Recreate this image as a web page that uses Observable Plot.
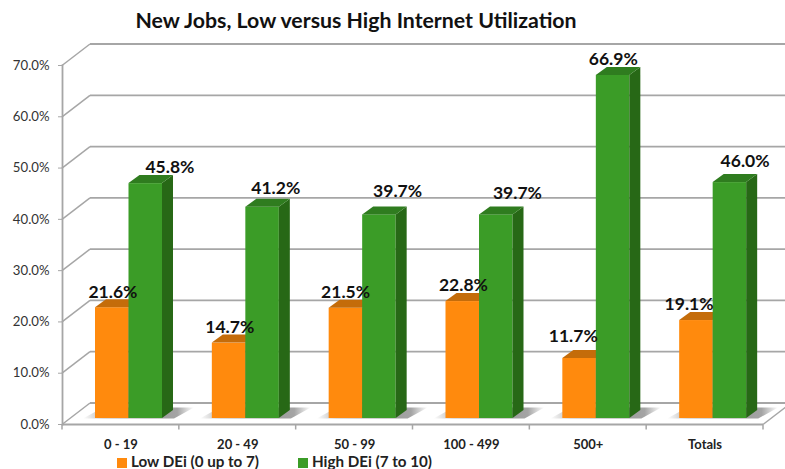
<!DOCTYPE html>
<html><head><meta charset="utf-8">
<script src="https://cdn.jsdelivr.net/npm/d3@7"></script>
<script src="https://cdn.jsdelivr.net/npm/@observablehq/plot@0.6"></script>
<style>
html,body{margin:0;padding:0;background:#fff;overflow:hidden;width:785px;height:469px}
#title{height:36px;width:712px;text-align:center;font:bold 21.3px/40px Lato,sans-serif;color:#111;white-space:nowrap}
#legend{height:17px;position:relative;font:bold 15.2px/16px Lato,sans-serif;color:#222}
#legend span{position:absolute;top:1px;white-space:nowrap}
#legend i{position:absolute;top:6px;width:9.5px;height:9.5px}
svg{display:block}
</style></head><body>
<div id="title">New Jobs, Low versus High Internet Utilization</div>
<div id="chart"></div>
<div id="legend"></div>
<script>
const categories = ["0 - 19","20 - 49","50 - 99","100 - 499","500+","Totals"];
const lowValues  = [21.6,14.7,21.5,22.8,11.7,19.1];
const highValues = [45.8,41.2,39.7,39.7,66.9,46.0];
const yTicks = [0,10,20,30,40,50,60,70];
const seriesNames = ["Low DEi (0 up to 7)","High DEi (7 to 10)"];

// label nudges from the bar's band centre, as in the reference's hand-placed labels
const lowNudgeX  = [-8,-8,-9,-8,-15,-16];
const lowNudgeY  = [-21,-22,-22,-22,-28,-22];
const highNudgeX = [49,38,43,46,25,40];
const highNudgeY = [-22,-25,-30,-28,-22,-27];

const lowTable  = categories.map((c,i)=>({c,v:lowValues[i]}));
const highTable = categories.map((c,i)=>({c,v:highValues[i]}));

const WALL_X = 28, WALL_Y = -21.5, BAR_DX = 8, BAR_DY = -6, DEPTH_X = 11, DEPTH_Y = -8;
const GRID = "#a6a6a6", fmt = v => v.toFixed(1)+"%";
const NS = "http://www.w3.org/2000/svg";
function add(g, tag, attrs){
  const e = document.createElementNS(NS, tag);
  for (const k in attrs) e.setAttribute(k, attrs[k]);
  g.appendChild(e); return e;
}
// extrudes every bar: side and top faces from the rect Plot computed
function extrude(sideColor, topColor){
  return (index, scales, values, dims, ctx, next) => {
    const g = next(index, scales, values, dims, ctx);
    for (const r of [...g.querySelectorAll("rect")]) {
      const x=+r.getAttribute("x"), y=+r.getAttribute("y"), w=+r.getAttribute("width"), h=+r.getAttribute("height");
      add(g,"polygon",{fill:sideColor,points:`${x+w},${y} ${x+w+DEPTH_X},${y+DEPTH_Y} ${x+w+DEPTH_X},${y+h+DEPTH_Y} ${x+w},${y+h}`});
      add(g,"polygon",{fill:topColor,points:`${x},${y} ${x+w},${y} ${x+w+DEPTH_X},${y+DEPTH_Y} ${x+DEPTH_X},${y+DEPTH_Y}`});
    }
    return g;
  };
}
function label(table, nx, ny){
  return table.map((d,i)=>Plot.text([d],{x:"c",y:"v",text:e=>fmt(e.v),dx:nx[i],dy:ny[i],
    fontFamily:"Lato, sans-serif",fontWeight:700,fontSize:17.5,fill:"#111"}));
}
const svg = Plot.plot({
  width:785, height:416,
  marginTop:29, marginBottom:28, marginLeft:62, marginRight:22,
  style:{background:"transparent",overflow:"hidden"},
  x:{type:"band",domain:categories,padding:0,round:false},
  y:{domain:[0,70],label:null},
  marks:[
    // back wall gridlines with their diagonals
    Plot.ruleY(yTicks,{stroke:GRID,strokeWidth:1.8,dx:WALL_X,dy:WALL_Y,
      render:(index,scales,values,dims,ctx,next)=>{
        const g=next(index,scales,values,dims,ctx);
        for(const i of index){
          const y=values.y[i]-WALL_Y;
          add(g,"line",{x1:dims.marginLeft-WALL_X,y1:y,x2:dims.marginLeft,y2:y+WALL_Y,stroke:GRID,"stroke-width":1.5});
        }
        return g;
      }}),
    // floor front edge, category ticks, right diagonal and floor shadows
    Plot.ruleY([0],{stroke:GRID,strokeWidth:2,
      render:(index,scales,values,dims,ctx,next)=>{
        const g=next(index,scales,values,dims,ctx);
        const y=scales.y(0), bw=scales.scales.x.bandwidth;
        const defs=add(g,"defs",{});
        const lg=add(defs,"linearGradient",{id:"floorShade"});
        [[0,"#ffffff"],[.18,"#bbbbbb"],[.6,"#999999"],[.85,"#a4a4a4"],[1,"#ffffff"]].forEach(([o,c])=>add(lg,"stop",{offset:o,"stop-color":c}));
        for(const c of categories){
          const x0=scales.x(c);
          add(g,"polygon",{fill:"url(#floorShade)",stroke:"none",points:`${x0+21},${y+BAR_DY} ${x0+41},${y+BAR_DY-11} ${x0+132},${y+BAR_DY-11} ${x0+112},${y+BAR_DY}`});
        }
        const ends=[...categories.map(c=>scales.x(c)),scales.x(categories[categories.length-1])+bw];
        for(const x of ends) add(g,"line",{x1:x,x2:x,y1:y,y2:y+5,stroke:GRID,"stroke-width":1.5});
        const xe=ends[ends.length-1];
        add(g,"line",{x1:xe,y1:y,x2:xe+WALL_X,y2:y+WALL_Y,stroke:GRID,"stroke-width":1.5});
        return g;
      }}),
    Plot.frame({anchor:"left",stroke:GRID,strokeWidth:1.8}),
    Plot.axisY({ticks:yTicks,tickFormat:fmt,tickSize:4,tickPadding:9,label:null,stroke:GRID,
      fontFamily:"Lato, sans-serif",fontSize:13.2,color:"#333",textStroke:"none"}),
    Plot.axisX({tickSize:0,tickPadding:15,label:null,fontFamily:"Lato, sans-serif",fontWeight:700,fontSize:13,color:"#222"}),
    // bars
    Plot.barY(lowTable,{x:"c",y:"v",fill:"#ff8a0d",insetLeft:25,insetRight:58.33,dx:BAR_DX,dy:BAR_DY,
      render:extrude("#b85f08","#c46c0a")}),
    Plot.barY(highTable,{x:"c",y:"v",fill:"#3b9c27",insetLeft:58.5,insetRight:24.83,dx:BAR_DX,dy:BAR_DY,
      render:extrude("#276816","#2f7c1f")}),
    ...label(lowTable,lowNudgeX,lowNudgeY),
    ...label(highTable,highNudgeX,highNudgeY)
  ]
});
document.getElementById("chart").appendChild(svg);
const legend=document.getElementById("legend");
[["#ff8a0d",117,131],["#3b9c27",298,312]].forEach(([col,sx,tx],i)=>{
  const sw=document.createElement("i"); sw.style.left=sx+"px"; sw.style.background=col; legend.appendChild(sw);
  const t=document.createElement("span"); t.style.left=tx+"px"; t.textContent=seriesNames[i]; legend.appendChild(t);
});
</script>
</body></html>
